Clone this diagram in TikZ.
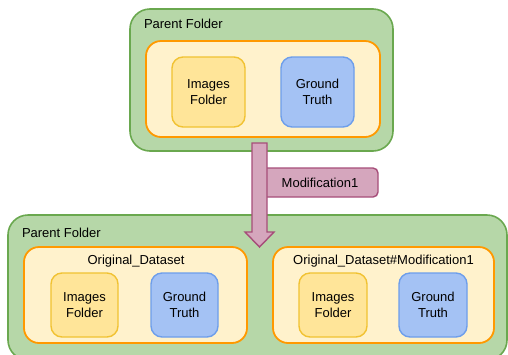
\documentclass[tikz,border=0pt]{standalone}
\usepackage{fontspec}
\setmainfont{Liberation Sans}
\definecolor{gfill}{HTML}{B6D7A8}
\definecolor{gline}{HTML}{6AA84F}
\definecolor{ofill}{HTML}{FFF2CC}
\definecolor{oline}{HTML}{FF9900}
\definecolor{yfill}{HTML}{FFE599}
\definecolor{yline}{HTML}{F1C232}
\definecolor{bfill}{HTML}{A4C2F4}
\definecolor{bline}{HTML}{6D9EEB}
\definecolor{pfill}{HTML}{D5A6BD}
\definecolor{pline}{HTML}{A64D79}
\tikzset{
  every node/.style={font=\fontsize{13bp}{16bp}\selectfont, inner sep=0pt, outer sep=0pt},
  parentbox/.style={draw=gline, fill=gfill, line width=1.6bp, rounded corners=20bp},
  setbox/.style={draw=oline, fill=ofill, line width=1.8bp, rounded corners=15bp},
  imgbox/.style={draw=yline, fill=yfill, line width=1.4bp, rounded corners=11bp, align=center},
  gtbox/.style={draw=bline, fill=bfill, line width=1.4bp, rounded corners=11bp, align=center},
  modbox/.style={draw=pline, fill=pfill, line width=1.4bp, rounded corners=5bp},
  arrowshape/.style={draw=pline, fill=pfill, line width=1.4bp, line join=miter},
}
\begin{document}
\begin{tikzpicture}[x=1bp, y=-1bp]
\useasboundingbox (0,0) rectangle (508,354);
\begin{scope}
\clip (0,0) rectangle (508,354);
% top
\node[parentbox, minimum width=263bp, minimum height=142bp] (top) at (261.5,80) {};
\node[anchor=base west] (toplbl) at (144,28) {Parent Folder};
\node[setbox, minimum width=234bp, minimum height=96bp] (topset) at (263,89) {};
\node[imgbox, minimum width=73bp, minimum height=70bp] (topimg) at (208.5,92) {Images\\Folder};
\node[gtbox, minimum width=73bp, minimum height=70bp] (topgt) at (317.5,92) {Ground\\Truth};
% bottom
\node[parentbox, minimum width=499bp, minimum height=145bp] (bot) at (257.5,287.5) {};
\node[anchor=base west] (botlbl) at (22,237) {Parent Folder};
\node[setbox, minimum width=223bp, minimum height=96bp] (lset) at (135.5,295) {};
\node[anchor=base] (lsetlbl) at (136,264) {Original\_Dataset};
\node[imgbox, minimum width=67bp, minimum height=64bp] (limg) at (84.5,305) {Images\\Folder};
\node[gtbox, minimum width=67bp, minimum height=64bp] (lgt) at (184.5,305) {Ground\\Truth};
\node[setbox, minimum width=221bp, minimum height=96bp] (rset) at (383.5,295) {};
\node[anchor=base] (rsetlbl) at (383.5,264) {Original\_Dataset\#Modification1};
\node[imgbox, minimum width=68bp, minimum height=64bp] (rimg) at (333,305) {Images\\Folder};
\node[gtbox, minimum width=68bp, minimum height=64bp] (rgt) at (433,305) {Ground\\Truth};
% modification label and block arrow
\node[modbox, minimum width=123bp, minimum height=29bp] (mod) at (316.5,182.5) {\hspace{7bp}Modification1};
\coordinate (a1) at (252,143);
\coordinate (a2) at (267,143);
\coordinate (a3) at (267,232);
\coordinate (a4) at (274,232);
\coordinate (tip) at (259.5,247);
\coordinate (a6) at (245,232);
\coordinate (a7) at (252,232);
\draw[arrowshape] (a1) -- (a2) -- (a3) -- (a4) -- (tip) -- (a6) -- (a7) -- cycle;
\end{scope}
\end{tikzpicture}
\end{document}
